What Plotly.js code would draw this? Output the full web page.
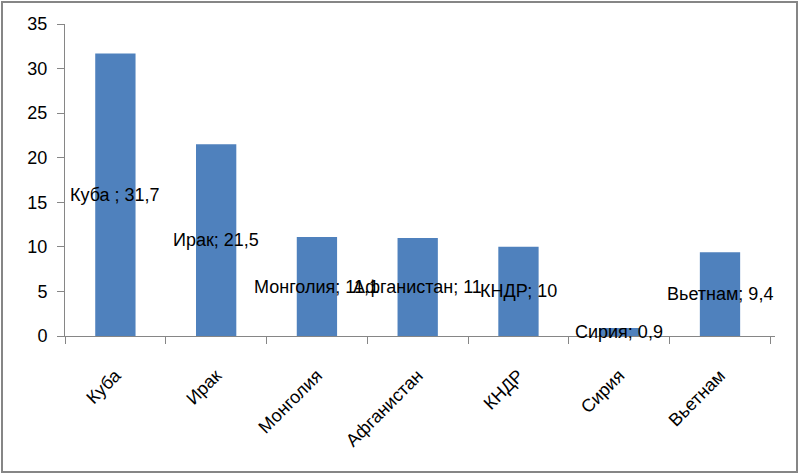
<!DOCTYPE html>
<html>
<head>
<meta charset="utf-8">
<script src="https://cdn.plot.ly/plotly-3.0.1.min.js"></script>
<style>
html,body{margin:0;padding:0;background:#fff;}
#chart{width:800px;height:474px;}
</style>
</head>
<body>
<div id="chart"></div>
<script>
var categories = ["Куба", "Ирак", "Монголия", "Афганистан", "КНДР", "Сирия", "Вьетнам"];
var values = [31.7, 21.5, 11.1, 11, 10, 0.9, 9.4];
var labelNames = ["Куба ", "Ирак", "Монголия", "Афганистан", "КНДР", "Сирия", "Вьетнам"];
var yTicks = [0, 5, 10, 15, 20, 25, 30, 35];

var FONT = "Liberation Sans, Arial, sans-serif";
var AXIS = "#868686";

function fmt(v){ return String(v).replace(".", ","); }

var annotations = categories.map(function(c, i){
  return {
    x: c, y: values[i] / 2, xref: "x", yref: "y",
    text: labelNames[i] + "; " + fmt(values[i]),
    showarrow: false,
    font: {family: FONT, size: 18, color: "#000"},
    xanchor: "center", yanchor: "middle"
  };
});

var trace = {
  type: "bar",
  x: categories,
  y: values,
  marker: {color: "#4F81BD", line: {width: 0}},
  hoverinfo: "none"
};

var layout = {
  width: 800, height: 474,
  margin: {l: 65, r: 25, t: 24, b: 138},
  paper_bgcolor: "#fff", plot_bgcolor: "#fff",
  bargap: 0.6,
  showlegend: false,
  font: {family: FONT, size: 18, color: "#000"},
  xaxis: {
    type: "category",
    showline: true, linecolor: AXIS, linewidth: 1,
    ticks: "outside", tickson: "boundaries", ticklen: 7, tickcolor: AXIS,
    tickangle: -45,
    ticklabelstandoff: 21,
    showgrid: false, zeroline: false,
    tickfont: {family: FONT, size: 18, color: "#000"}
  },
  yaxis: {
    range: [0, 35],
    tickvals: yTicks,
    ticktext: yTicks.map(String),
    showline: true, linecolor: AXIS, linewidth: 1,
    ticks: "outside", ticklen: 7, tickcolor: AXIS,
    ticklabelstandoff: 6,
    showgrid: false, zeroline: false,
    tickfont: {family: FONT, size: 18, color: "#000"}
  },
  annotations: annotations,
  shapes: [{
    type: "rect", xref: "paper", yref: "paper",
    x0: (2 - 65) / 710, x1: (797 - 65) / 710,
    y0: (336 - 472) / 312, y1: (336 - 2) / 312,
    line: {color: AXIS, width: 2}, fillcolor: "rgba(0,0,0,0)", layer: "below"
  }]
};

Plotly.newPlot("chart", [trace], layout, {staticPlot: true, displayModeBar: false});
</script>
</body>
</html>
